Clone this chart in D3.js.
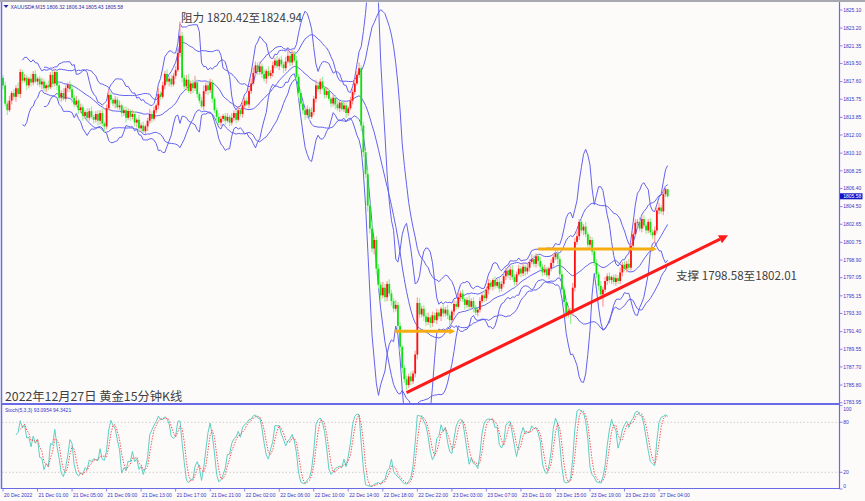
<!DOCTYPE html>
<html><head><meta charset="utf-8">
<script src="https://cdn.jsdelivr.net/npm/d3@7"></script>
<style>body{margin:0;background:#fdfbfa}svg{display:block}</style>
</head><body><svg id="c" width="865" height="501"></svg>
<script>
// ---- data (XAUUSD#, M15) ----
const firstOpen = 1818.0;
const closes = [
1817.2,1815.3,1814.6,1815.6,1816.4,1816.0,1816.9,1816.3,1818.6,1817.7,1818.0,1817.2,1817.9,1817.5,1818.4,1817.6,1817.9,1817.3,1817.6,1816.9,
1817.2,1817.0,1818.3,1817.4,1818.6,1817.2,1815.9,1816.4,1815.8,1816.9,1817.3,1816.8,1815.9,1815.2,1815.6,1814.6,1814.9,1814.0,1814.4,1813.8,
1814.5,1813.9,1813.6,1814.2,1813.5,1814.3,1813.2,1812.9,1814.8,1816.2,1815.7,1815.3,1815.7,1814.9,1815.1,1814.3,1814.6,1813.8,1814.5,1813.9,
1814.2,1813.3,1813.6,1812.7,1813.0,1812.4,1812.9,1813.5,1814.2,1813.7,1814.6,1815.1,1816.3,1816.0,1817.2,1818.4,1817.6,1817.9,1817.3,1818.2,
1818.8,1820.6,1822.4,1818.0,1817.1,1817.8,1816.6,1817.4,1816.9,1817.5,1816.3,1815.6,1815.0,1816.6,1817.2,1816.7,1817.5,1815.8,1814.6,1813.9,
1813.3,1813.7,1814.0,1813.5,1813.9,1813.3,1813.8,1814.3,1813.6,1814.6,1814.2,1815.1,1815.6,1815.2,1816.6,1817.4,1818.5,1819.3,1818.6,1819.2,
1818.4,1817.9,1818.7,1818.2,1818.5,1819.3,1819.8,1819.2,1819.9,1819.4,1819.0,1819.7,1820.3,1819.6,1820.5,1819.8,1818.1,1816.4,1815.3,1814.6,
1814.1,1814.7,1813.9,1814.4,1815.8,1817.2,1816.8,1817.6,1816.9,1816.2,1816.6,1815.8,1815.3,1815.9,1815.2,1814.8,1815.4,1814.7,1815.1,1814.3,
1814.8,1815.6,1816.5,1817.4,1818.3,1819.0,1813.0,1810.2,1807.9,1804.6,1802.2,1800.1,1801.0,1798.0,1796.3,1795.2,1796.0,1795.0,1796.4,1795.4,
1794.6,1793.8,1794.2,1792.0,1789.8,1787.6,1786.4,1785.8,1786.7,1786.2,1787.0,1789.0,1794.4,1793.2,1793.8,1793.0,1792.4,1792.9,1792.3,1793.1,
1792.6,1793.4,1793.0,1793.8,1793.3,1793.7,1793.1,1792.6,1793.5,1794.3,1794.0,1795.0,1795.4,1794.8,1794.2,1794.7,1794.0,1794.6,1793.9,1793.4,
1793.7,1794.6,1795.2,1794.9,1795.8,1796.5,1796.1,1796.8,1796.2,1796.6,1795.9,1796.4,1797.2,1797.8,1797.3,1797.9,1797.1,1796.6,1797.4,1798.0,
1797.5,1798.2,1797.7,1798.1,1798.7,1799.0,1798.5,1799.3,1798.8,1798.2,1797.6,1797.9,1797.3,1798.0,1798.6,1799.2,1799.6,1799.0,1797.4,1795.8,
1794.5,1793.2,1793.6,1793.4,1796.0,1800.8,1801.4,1802.9,1802.0,1802.4,1801.6,1800.5,1801.0,1799.8,1798.6,1797.4,1796.2,1795.3,1795.8,1796.7,
1797.2,1796.8,1797.1,1796.6,1797.0,1796.7,1797.6,1798.4,1798.0,1798.5,1798.1,1800.4,1801.6,1802.8,1802.9,1802.2,1803.2,1802.5,1802.0,1802.9,
1801.8,1801.5,1802.0,1804.1,1804.4,1804.0,1805.8,1806.32,1805.58];
const wickUp = [
.3,.4,.3,.5,.2,.4,.3,.6,.3,.2,.4,.3,.2,.5,.3,.4,.2,.3,.4,.3,
.2,.5,.3,.4,.3,.2,.4,.3,.5,.3,.2,.4,.3,.3,.5,.2,.4,.3,.2,.4,
.3,.5,.2,.3,.4,.3,.5,.2,.4,.6,.3,.2,.4,.3,.5,.2,.3,.4,.3,.2,
.4,.3,.2,.5,.3,.4,.2,.3,.5,.3,.4,.2,.6,.3,.4,.3,.5,.2,.4,.3,
.4,.5,1.5,.4,.3,.5,.6,.3,.4,.7,.3,.2,.4,.6,.3,.5,.4,.3,.2,.3,
.4,.3,.2,.3,.4,.2,.5,.3,.3,.4,.2,.5,.3,.4,.3,.5,.6,.4,.3,.5,
.3,.4,.2,.5,.3,.4,.3,.5,.2,.4,.3,.5,.7,.3,.4,.3,.5,.3,.4,.2,
.3,.4,.2,.5,.3,.6,.4,.3,.5,.2,.4,.3,.2,.4,.3,.5,.2,.3,.4,.3,
.2,.4,.3,.5,.4,.6,.3,.4,.2,.5,.3,.8,.3,.4,.5,.3,.6,.4,.3,.5,
.4,.3,.5,.3,.4,.2,.3,.4,.3,.5,.3,.4,.6,.5,.3,.4,.3,.5,.2,.4,
.3,.4,.3,.2,.4,.3,.5,.3,.2,.4,.3,.5,.3,.4,.2,.3,.5,.3,.4,.3,
.2,.4,.3,.5,.3,.4,.3,.2,.4,.3,.5,.3,.4,.3,.2,.4,.5,.3,.3,.4,
.3,.5,.2,.4,.3,.5,.4,.3,.2,.4,.3,.5,.3,.2,.4,.3,.5,.4,.3,.4,
.3,.2,.4,.3,.5,.4,.6,.3,.4,.3,.5,.3,.4,.3,.2,.4,.3,.5,.3,.4,
.3,.4,.2,.3,.4,.3,.5,.3,.4,.3,.5,.4,.3,.4,.3,.5,.3,.4,.2,.3,
.4,.3,.4,.3,.5,.3,.4,.3,.02];
const wickDn = [
.4,.3,.5,.2,.4,.3,.5,.3,.4,.3,.2,.5,.3,.4,.3,.2,.4,.3,.5,.3,
.4,.3,.2,.4,.3,.5,.3,.4,.2,.3,.4,.3,.5,.3,.2,.4,.3,.5,.3,.4,
.3,.2,.4,.3,.5,.4,.3,.6,.3,.2,.4,.3,.5,.2,.3,.4,.3,.5,.2,.4,
.3,.4,.5,.3,.4,.2,.3,.5,.3,.4,.2,.3,.4,.3,.2,.4,.3,.5,.3,.2,
.3,.2,.4,.5,.3,.4,.2,.3,.5,.3,.4,.3,.2,.4,.3,.5,.3,.4,.3,.5,
.3,.4,.3,.5,.2,.4,.3,.3,.4,.2,.3,.4,.3,.2,.4,.3,.2,.4,.3,.3,
.4,.3,.5,.2,.3,.4,.3,.2,.4,.3,.5,.3,.2,.4,.3,.2,.4,.5,.3,.4,
.5,.3,.4,.2,.3,.4,.3,.5,.2,.4,.3,.2,.4,.3,.5,.3,.4,.2,.3,.5,
.3,.2,.4,.3,.2,.3,.6,.5,.4,.6,.5,.4,.6,.5,.4,.6,.3,.5,.4,.3,
.5,.4,.3,.6,.5,.6,.4,.5,.3,.4,.3,.4,.5,.4,.3,.5,.4,.3,.5,.4,
.3,.4,.3,.5,.4,.3,.4,.5,.3,.4,.3,.2,.4,.3,.5,.3,.4,.3,.5,.3,
.4,.3,.2,.4,.3,.5,.3,.4,.3,.2,.4,.3,.3,.4,.3,.5,.3,.4,.3,.2,
.4,.3,.5,.3,.4,.2,.3,.4,.5,.3,.4,.3,.2,.4,.3,.4,.3,.5,.3,.4,
.5,.4,.3,1.2,.3,.4,.3,.4,.3,.5,.3,.4,.3,.4,.3,.4,.5,.3,1.3,.3,
.4,.3,.4,.3,.4,.3,.3,.4,.3,.4,.3,.3,.4,.3,.4,.3,.4,.3,.4,.3,
.3,.4,.8,.3,.4,.3,.4,.3,.15];
const priceTicks = ["1825.10","1823.20","1821.35","1819.50","1817.60","1815.75","1813.85","1812.00","1810.10","1808.25","1806.40","1804.50","1802.65","1800.75","1798.90","1797.05","1795.15","1793.30","1791.40","1789.55","1787.70","1785.80","1783.95"];
const timeLabels = ["20 Dec 2022","21 Dec 01:00","21 Dec 05:00","21 Dec 09:00","21 Dec 13:00","21 Dec 17:00","21 Dec 21:00","22 Dec 02:00","22 Dec 06:00","22 Dec 10:00","22 Dec 14:00","22 Dec 18:00","22 Dec 22:00","23 Dec 03:00","23 Dec 07:00","23 Dec 11:00","23 Dec 15:00","23 Dec 19:00","23 Dec 23:00","27 Dec 04:00"];
const barsPerLabel = 16;
const stochLevels = [100, 80, 20, 0];
const resistanceText = "阻力 1820.42至1824.94";
const supportText = "支撑 1798.58至1802.01";
const captionText = "2022年12月27日 黄金15分钟K线";
const headerText = "XAUUSD#,M15 1806.32 1806.34 1805.43 1805.58";
const stochText = "Stoch(5,3,3) 93.0954 94.3421";
const lastPrice = 1805.58;
const trendLine = [[187, 1785.0], [336, 1801.5]];
const arrowLow = [[181.5, 1791.45], [209.5, 1791.45]];
const arrowHigh = [[248, 1800.05], [303, 1800.05]];

// ---- derived OHLC ----
const N = closes.length;
const bars = closes.map((c, i) => {
  const o = i ? closes[i-1] : firstOpen;
  return {i, o, c, h: Math.max(o, c) + wickUp[i], l: Math.min(o, c) - wickDn[i]};
});

// ---- scales ----
const x = d3.scaleLinear().domain([0, N-1]).range([3, 3 + 2.158*(N-1)]);
const y = d3.scaleLinear().domain([1783.95, 1825.10]).range([402.7, 10]);
const ys = d3.scaleLinear().domain([0, 100]).range([489, 405.6]);

const svg = d3.select("#c");
const frame = "#6a6ae8", txt = "#3434c8";
const small = "'Liberation Sans',Arial,sans-serif";
svg.append("rect").attr("width",865).attr("height",501).attr("fill","#fdfbfa");
const defs = svg.append("defs");
defs.append("clipPath").attr("id","mainClip").append("rect").attr("x",2).attr("y",2.5).attr("width",837).attr("height",400.5);
defs.append("clipPath").attr("id","stClip").append("rect").attr("x",2).attr("y",405).attr("width",837).attr("height",83);

svg.append("line").attr("x1",0).attr("x2",865).attr("y1",1).attr("y2",1).attr("stroke","#a8a8b0").attr("stroke-width",2);

// ---- Bollinger bands ----
function bands(period, k){
  const out = [];
  for (let i = period-1; i < N; i++){
    const w = closes.slice(i-period+1, i+1);
    const m = d3.mean(w);
    const sd = Math.sqrt(d3.mean(w, v => (v-m)*(v-m)));
    out.push({i, m, u: m + k*sd, d: m - k*sd});
  }
  return out;
}
const main = svg.append("g").attr("clip-path","url(#mainClip)");
const bandColor = "#6262ee";
[[20,2],[10,3]].forEach(([p,k], idx) => {
  const b = bands(p,k);
  const keys = idx === 0 ? ["u","m","d"] : ["u","d"];
  keys.forEach(key => {
    main.append("path").datum(b)
      .attr("d", d3.line().x(d => x(d.i)).y(d => y(d[key])))
      .attr("fill","none").attr("stroke",bandColor).attr("stroke-width",1);
  });
});

// ---- candles ----
const cg = main.append("g");
cg.selectAll("rect.w").data(bars).join("rect")
  .attr("x", d => x(d.i) - 0.6).attr("width", 1.2)
  .attr("y", d => y(d.h)).attr("height", d => Math.max(0.5, y(d.l) - y(d.h)))
  .attr("fill", d => d.c >= d.o ? "#ff9c9c" : "#9cf09c");
cg.selectAll("rect.b").data(bars).join("rect")
  .attr("x", d => x(d.i) - 0.9).attr("width", 1.8)
  .attr("y", d => y(Math.max(d.o, d.c))).attr("height", d => Math.max(0.8, Math.abs(y(d.o) - y(d.c))))
  .attr("fill", d => d.c >= d.o ? "#ff1010" : "#10e010");

// ---- annotation lines ----
function arrow(g, pts, color, width, head){
  const [x1,y1] = [x(pts[0][0]), y(pts[0][1])], [x2,y2] = [x(pts[1][0]), y(pts[1][1])];
  const ang = Math.atan2(y2-y1, x2-x1);
  const bx = x2 - head*Math.cos(ang), by = y2 - head*Math.sin(ang);
  g.append("line").attr("x1",x1).attr("y1",y1).attr("x2",bx).attr("y2",by)
    .attr("stroke",color).attr("stroke-width",width);
  const hw = head*0.5;
  g.append("path").attr("d", `M${x2},${y2}L${bx - hw*Math.sin(ang)},${by + hw*Math.cos(ang)}L${bx + hw*Math.sin(ang)},${by - hw*Math.cos(ang)}Z`).attr("fill",color);
}
arrow(main, arrowLow, "#f7ad10", 3, 6);
arrow(main, arrowHigh, "#f7ad10", 3, 6);
arrow(main, trendLine, "#ff1a1a", 3, 9);

// ---- texts ----
const cjk = "'Noto Sans CJK SC','Noto Sans',sans-serif";
svg.append("text").attr("x",181).attr("y",22).attr("font-family",cjk).attr("font-size",11.6).attr("fill","#404040").text(resistanceText);
svg.append("text").attr("x",676).attr("y",279.5).attr("font-family",cjk).attr("font-size",11.6).attr("fill","#404040").text(supportText);
svg.append("text").attr("x",5).attr("y",401).attr("font-family",cjk).attr("font-size",12.3).attr("fill","#404040").text(captionText);
svg.append("path").attr("d","M3.5,5L8.5,5L6,8Z").attr("fill","#2a2aa0");
svg.append("text").attr("x",10.5).attr("y",8.8).attr("font-family",small).attr("font-size",5).attr("fill","#2a2aa0").text(headerText);

// ---- stochastic ----
const K = new Array(N).fill(null), D = new Array(N).fill(null);
const ll = [], hh = [];
for (let i = 4; i < N; i++){
  const w = bars.slice(i-4, i+1);
  hh[i] = d3.max(w, d => d.h); ll[i] = d3.min(w, d => d.l);
}
for (let i = 6; i < N; i++){
  let num = 0, den = 0;
  for (let j = i-2; j <= i; j++){ num += closes[j] - ll[j]; den += hh[j] - ll[j]; }
  K[i] = den ? 100*num/den : 50;
}
for (let i = 8; i < N; i++) D[i] = (K[i] + K[i-1] + K[i-2]) / 3;
const st = svg.append("g").attr("clip-path","url(#stClip)");
[80,20].forEach(v => st.append("line").attr("x1",2).attr("x2",839).attr("y1",ys(v)).attr("y2",ys(v))
  .attr("stroke","#c4c4c4").attr("stroke-dasharray","1.5,2").attr("stroke-width",0.8));
const kPts = K.map((v,i)=>[i,v]).filter(d=>d[1]!==null);
const dPts = D.map((v,i)=>[i,v]).filter(d=>d[1]!==null);
st.append("path").datum(kPts).attr("d", d3.line().x(d=>x(d[0])).y(d=>ys(d[1])))
  .attr("fill","none").attr("stroke","#5ccfc4").attr("stroke-width",1);
st.append("path").datum(dPts).attr("d", d3.line().x(d=>x(d[0])).y(d=>ys(d[1])))
  .attr("fill","none").attr("stroke","#ff4a4a").attr("stroke-width",1).attr("stroke-dasharray","1.4,1.4");
svg.append("text").attr("x",5).attr("y",412.3).attr("font-family",small).attr("font-size",5).attr("fill",txt).text(stochText);

// ---- frame ----
svg.append("line").attr("x1",1.5).attr("x2",1.5).attr("y1",2).attr("y2",489).attr("stroke",frame).attr("stroke-width",1.5);
svg.append("line").attr("x1",839.5).attr("x2",839.5).attr("y1",2).attr("y2",489).attr("stroke",frame).attr("stroke-width",1.2);
svg.append("line").attr("x1",1).attr("x2",840).attr("y1",404).attr("y2",404).attr("stroke",frame).attr("stroke-width",2);
svg.append("line").attr("x1",1).attr("x2",840).attr("y1",488.5).attr("y2",488.5).attr("stroke",frame).attr("stroke-width",1.2);

// ---- price axis ----
const pa = svg.append("g").attr("font-family",small).attr("font-size",5).attr("fill",txt);
priceTicks.forEach(t => {
  const yy = y(+t);
  pa.append("line").attr("x1",839.5).attr("x2",842.5).attr("y1",yy).attr("y2",yy).attr("stroke",frame).attr("stroke-width",0.8);
  pa.append("text").attr("x",843.2).attr("y",yy).attr("dy","0.35em").text(t);
});
const ly = y(lastPrice);
svg.append("rect").attr("x",840).attr("y",ly-3).attr("width",22.5).attr("height",6).attr("fill","#1414c8");
svg.append("text").attr("x",843.2).attr("y",ly).attr("dy","0.35em").attr("font-family",small).attr("font-size",5).attr("fill","#ffffff").text(lastPrice.toFixed(2));
stochLevels.forEach(v => {
  const yy = Math.min(486, Math.max(409, ys(v)));
  pa.append("line").attr("x1",839.5).attr("x2",842.5).attr("y1",ys(v)).attr("y2",ys(v)).attr("stroke",frame).attr("stroke-width",0.8);
  pa.append("text").attr("x",843.2).attr("y",yy).attr("dy","0.35em").text(v);
});

// ---- time axis ----
const ta = svg.append("g").attr("font-family",small).attr("font-size",5).attr("fill",txt);
timeLabels.forEach((t, k) => {
  const xx = x(k*barsPerLabel);
  ta.append("line").attr("x1",xx).attr("x2",xx).attr("y1",488.5).attr("y2",491.5).attr("stroke",frame).attr("stroke-width",0.8);
  ta.append("text").attr("x",xx+1).attr("y",496).attr("dy","0.1em").text(t);
});
</script></body></html>
